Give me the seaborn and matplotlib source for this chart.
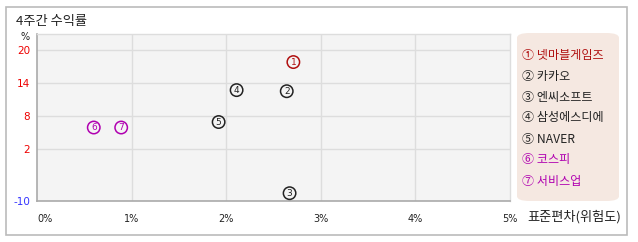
import numpy as np
import pandas as pd
import matplotlib
matplotlib.use("Agg")
import matplotlib.pyplot as plt
import seaborn as sns
from matplotlib.patches import FancyBboxPatch, Rectangle

# ---- data ----
labels = ["①", "②", "③", "④", "⑤", "⑥", "⑦"]
names = ["넷마블게임즈", "카카오", "엔씨소프트", "삼성에스디에", "NAVER", "코스피", "서비스업"]
std_risk = [2.71, 2.64, 2.67, 2.11, 1.92, 0.60, 0.89]
ret_4w = [17.8, 12.5, -8.2, 12.7, 6.9, 5.9, 5.9]
colors = ["#b01010", "#222222", "#222222", "#222222", "#222222", "#b000b0", "#b000b0"]
y_ticks = [-10, 2, 8, 14, 20]
y_tick_colors = ["#3333ff", "#ee0000", "#ee0000", "#ee0000", "#ee0000"]
x_ticks = [0, 1, 2, 3, 4, 5]
x_tick_labels = ["0%", "1%", "2%", "3%", "4%", "5%"]

FONT = ["Noto Sans CJK KR", "DejaVu Sans"]
sns.set_theme(style="white")
plt.rcParams["font.family"] = FONT

W, H = 638, 242
fig = plt.figure(figsize=(W / 100, H / 100), dpi=100)
fig.patch.set_facecolor("white")

# outer frame
fig.add_artist(Rectangle((6 / W, 1 - 235 / H), (627 - 6) / W, (235 - 7) / H,
                         transform=fig.transFigure, fill=False, edgecolor="#bbbbbb", lw=1.2))

L, R, T, B = 37, 510, 34, 201
ax = fig.add_axes([L / W, 1 - B / H, (R - L) / W, (B - T) / H])
ax.set_facecolor("#f4f4f4")

# piecewise-linear y scale (compressed below 2)
k = (52 / 12) / (33 / 6)
def fwd(y):
    y = np.asarray(y, dtype=float)
    return np.where(y >= 2, y, 2 + (y - 2) * k)
def inv(v):
    v = np.asarray(v, dtype=float)
    return np.where(v >= 2, v, 2 + (v - 2) / k)
ax.set_yscale("function", functions=(fwd, inv))
ax.set_ylim(-10, 22.9)
ax.set_xlim(0, 5)

df = pd.DataFrame({"x": std_risk, "y": ret_4w, "lab": labels, "c": colors})
sns.scatterplot(data=df, x="x", y="y", hue="lab", palette=dict(zip(labels, colors)),
                s=80, marker="o", legend=False, ax=ax, zorder=3, linewidth=1.1)
for coll in ax.collections:
    coll.set_facecolor("none")
    coll.set_edgecolor(colors)
for xi, yi, lab, c in zip(std_risk, ret_4w, labels, colors):
    ax.text(xi, yi, str(labels.index(lab) + 1), ha="center", va="center",
            fontsize=6.5, color=c, zorder=4, family=["DejaVu Sans"])

# grid
for yv in [2, 8, 14, 20]:
    ax.axhline(yv, color="#dddddd", lw=1, zorder=1)
for xv in [1, 2, 3, 4]:
    ax.axvline(xv, color="#dddddd", lw=1, zorder=1)

for s in ["top", "right"]:
    ax.spines[s].set_color("#dddddd")
    ax.spines[s].set_linewidth(1)
for s in ["left", "bottom"]:
    ax.spines[s].set_color("#aaaaaa")
    ax.spines[s].set_linewidth(1.2)

ax.set_yticks(y_ticks)
ax.set_yticklabels([str(v) for v in y_ticks], fontsize=7.5, family=["DejaVu Sans"])
for t, c in zip(ax.get_yticklabels(), y_tick_colors):
    t.set_color(c)
ax.set_xticks(x_ticks)
ax.set_xticklabels(x_tick_labels, fontsize=7, family=["DejaVu Sans"], color="#222222")
ax.get_xticklabels()[0].set_horizontalalignment("left")
ax.tick_params(axis="both", length=0)
ax.tick_params(axis="x", pad=9)
ax.tick_params(axis="y", pad=5)
ax.set_xlabel("")
ax.set_ylabel("")
ax.grid(False)

# texts
fig.text(16 / W, 1 - 21 / H, "4주간 수익률", fontsize=9.5, va="center", ha="left", color="#222222")
fig.text(25 / W, 1 - 37 / H, "%", fontsize=7, va="center", ha="center", color="#222222",
         family=["DejaVu Sans"])
fig.text(527 / W, 1 - 217 / H, "표준편차(위험도)", fontsize=9.5, va="center", ha="left", color="#222222")

# legend box
fig.add_artist(FancyBboxPatch((517 / W, 1 - 201 / H), (619 - 517) / W, (201 - 33) / H,
                              boxstyle="round,pad=0,rounding_size=0.02",
                              transform=fig.transFigure, facecolor="#f5e8e1",
                              edgecolor="none"))
for i, (lab, nm, c) in enumerate(zip(labels, names, colors)):
    yy = 55 + i * 21
    fig.text(522 / W, 1 - yy / H, f"{lab} {nm}", fontsize=8.7, va="center", ha="left", color=c)

fig.savefig("out.png", dpi=100)
